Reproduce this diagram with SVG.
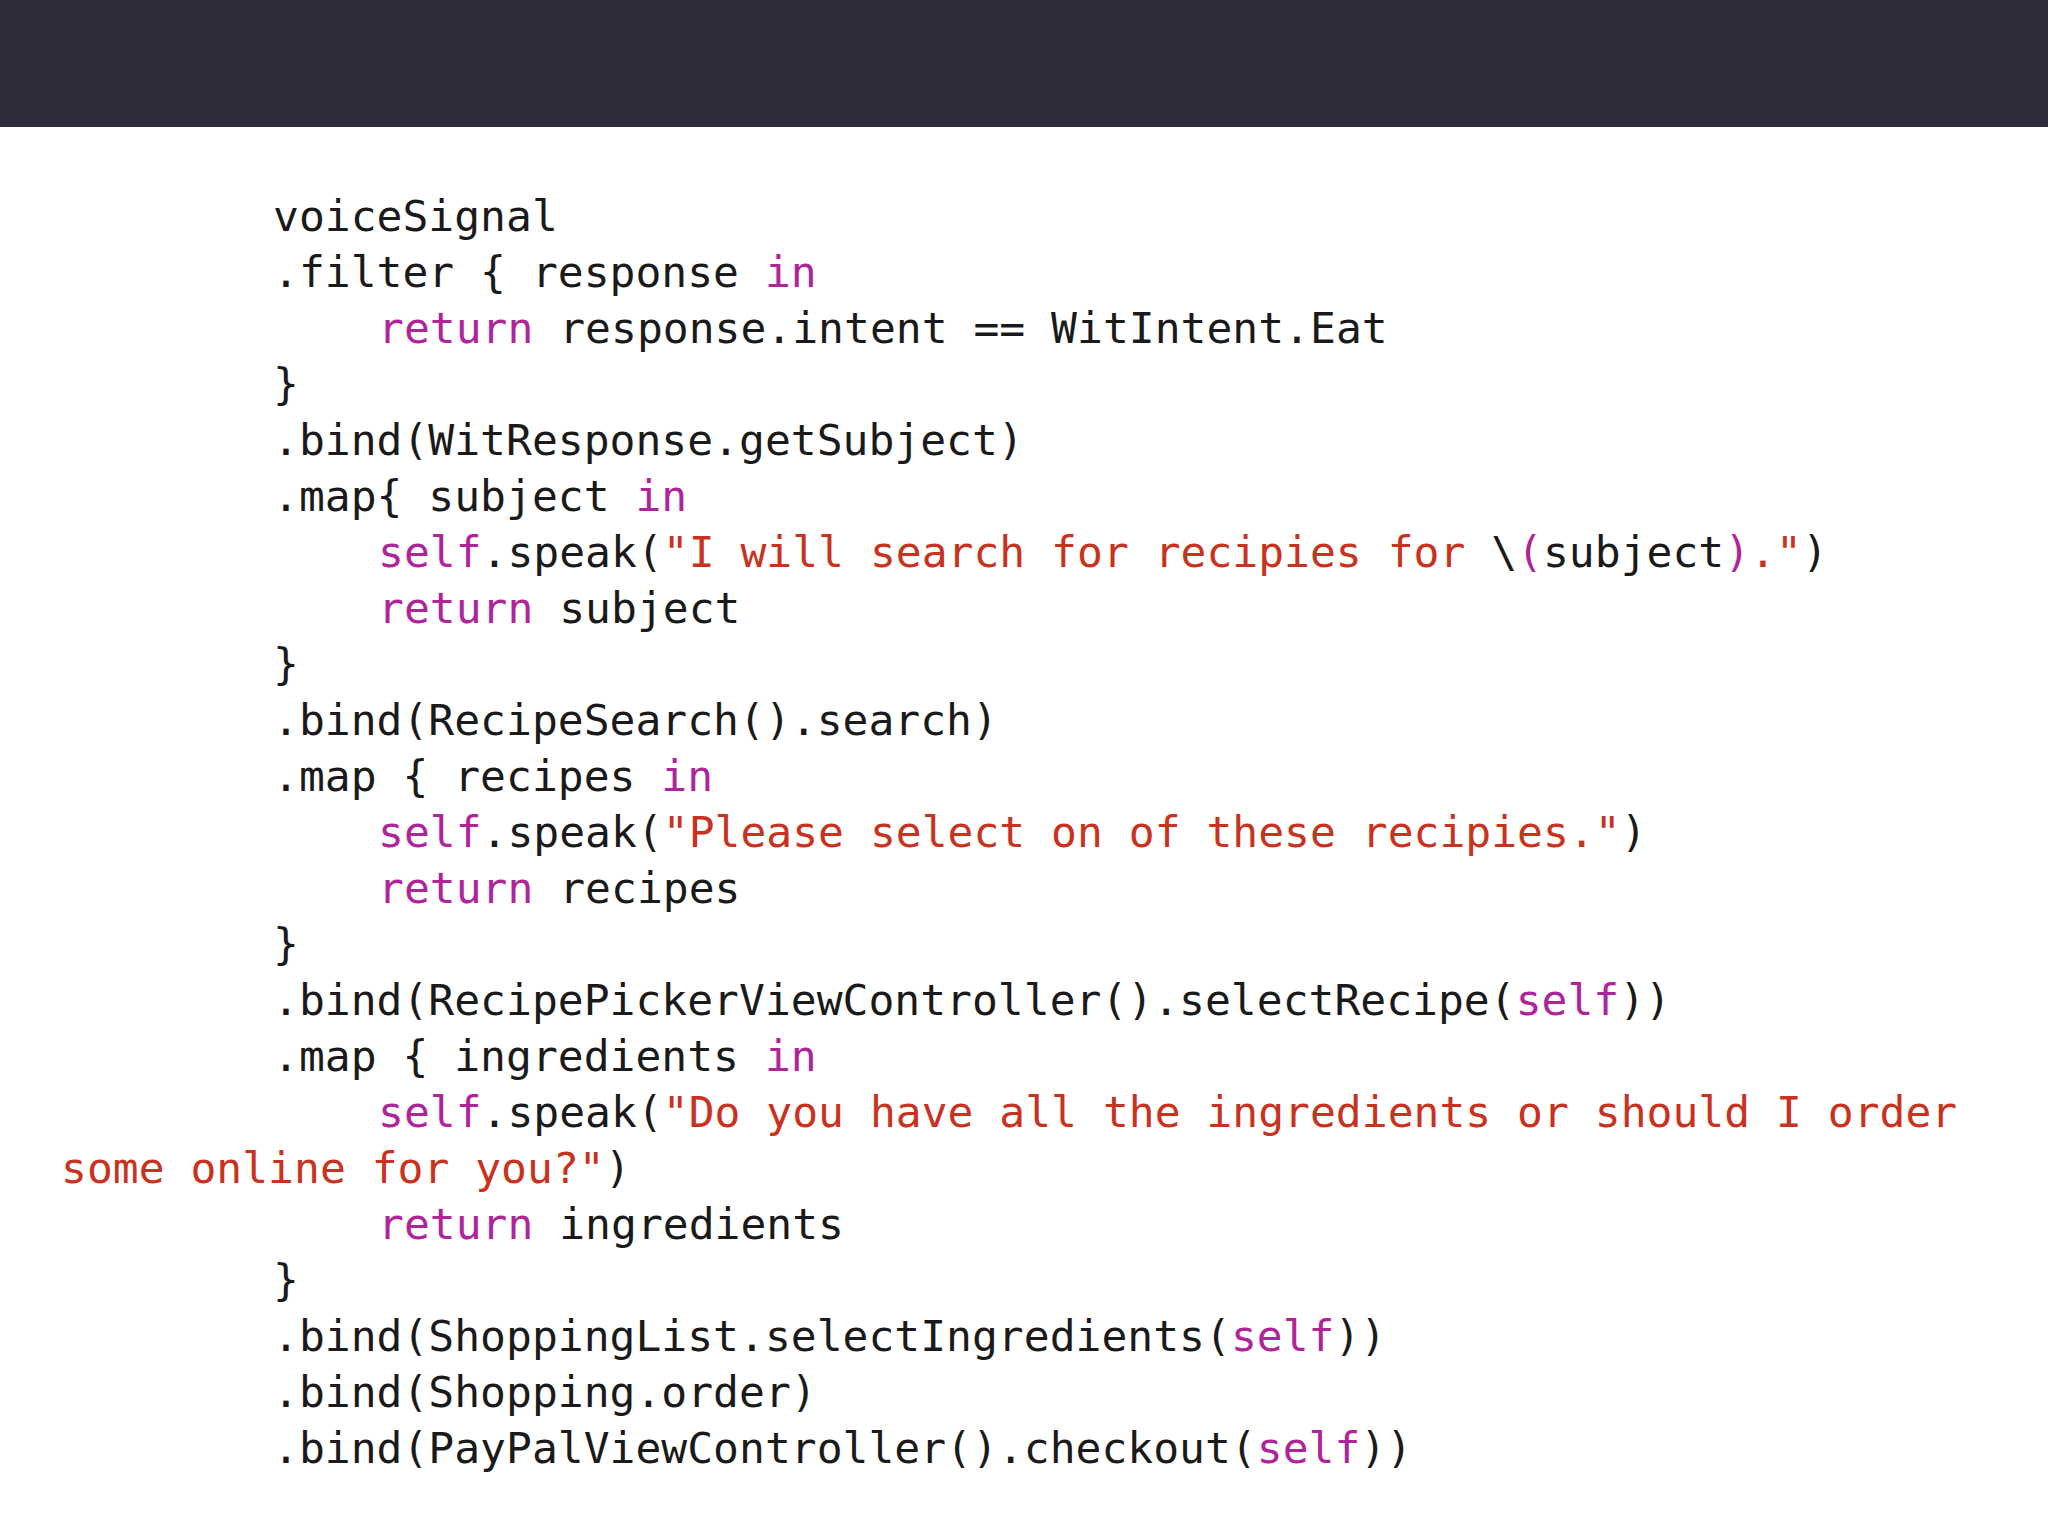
<svg xmlns="http://www.w3.org/2000/svg" width="2048" height="1536" viewBox="0 0 2048 1536">
<style>
text{font-family:"DejaVu Sans Mono","Liberation Mono",monospace;font-size:43px;fill:#1a1a1a;white-space:pre}
.k{fill:#b0249a}.s{fill:#c8321e}
</style>
<rect width="2048" height="1536" fill="#ffffff"/>
<rect width="2048" height="127" fill="#2d2d3c"/>
<g id="code">
<text xml:space="preserve">
<tspan x="273" y="231">voiceSignal</tspan>
<tspan x="273" y="287">.filter { response <tspan class="k">in</tspan></tspan>
<tspan x="378" y="343"><tspan class="k">return</tspan> response.intent == WitIntent.Eat</tspan>
<tspan x="273" y="399">}</tspan>
<tspan x="273" y="455">.bind(WitResponse.getSubject)</tspan>
<tspan x="273" y="511">.map{ subject <tspan class="k">in</tspan></tspan>
<tspan x="378" y="567"><tspan class="k">self</tspan>.speak(<tspan class="s">"I will search for recipies for </tspan>\<tspan class="k">(</tspan>subject<tspan class="k">)</tspan><tspan class="s">."</tspan>)</tspan>
<tspan x="378" y="623"><tspan class="k">return</tspan> subject</tspan>
<tspan x="273" y="679">}</tspan>
<tspan x="273" y="735">.bind(RecipeSearch().search)</tspan>
<tspan x="273" y="791">.map { recipes <tspan class="k">in</tspan></tspan>
<tspan x="378" y="847"><tspan class="k">self</tspan>.speak(<tspan class="s">"Please select on of these recipies."</tspan>)</tspan>
<tspan x="378" y="903"><tspan class="k">return</tspan> recipes</tspan>
<tspan x="273" y="959">}</tspan>
<tspan x="273" y="1015">.bind(RecipePickerViewController().selectRecipe(<tspan class="k">self</tspan>))</tspan>
<tspan x="273" y="1071">.map { ingredients <tspan class="k">in</tspan></tspan>
<tspan x="378" y="1127"><tspan class="k">self</tspan>.speak(<tspan class="s">"Do you have all the ingredients or should I order</tspan></tspan>
<tspan x="61" y="1183"><tspan class="s">some online for you?"</tspan>)</tspan>
<tspan x="378" y="1239"><tspan class="k">return</tspan> ingredients</tspan>
<tspan x="273" y="1295">}</tspan>
<tspan x="273" y="1351">.bind(ShoppingList.selectIngredients(<tspan class="k">self</tspan>))</tspan>
<tspan x="273" y="1407">.bind(Shopping.order)</tspan>
<tspan x="273" y="1463">.bind(PayPalViewController().checkout(<tspan class="k">self</tspan>))</tspan>
</text>
</g>
</svg>
